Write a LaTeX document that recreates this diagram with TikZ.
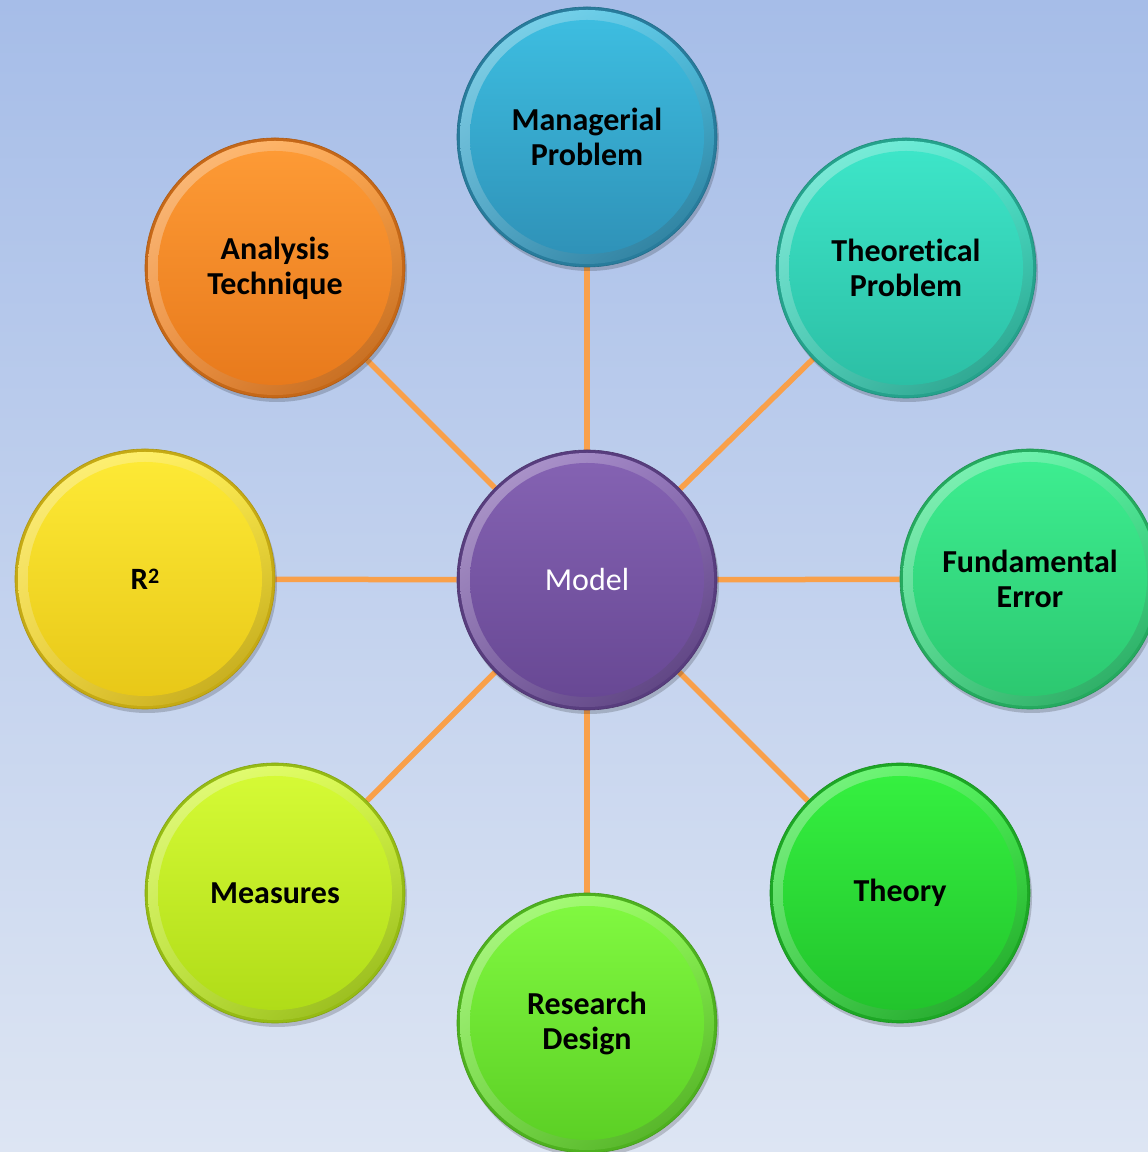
\documentclass[tikz,border=0pt]{standalone}
\usepackage{fontspec}
\setmainfont[Ligatures=NoCommon]{Carlito}
\usetikzlibrary{shadows,shadings}
\definecolor{bgtop}{HTML}{A6BDE8}
\definecolor{bgbot}{HTML}{DDE5F3}
\definecolor{link}{HTML}{F9A04A}
\definecolor{mgT}{HTML}{3DBDE0}\definecolor{mgB}{HTML}{2F92B8}
\definecolor{thT}{HTML}{3DE5C8}\definecolor{thB}{HTML}{2CBFA5}
\definecolor{fuT}{HTML}{3DED90}\definecolor{fuB}{HTML}{2CC870}
\definecolor{tyT}{HTML}{35F040}\definecolor{tyB}{HTML}{22C42C}
\definecolor{rdT}{HTML}{80F840}\definecolor{rdB}{HTML}{5CD025}
\definecolor{meT}{HTML}{D5FA35}\definecolor{meB}{HTML}{B0DC18}
\definecolor{r2T}{HTML}{FDE935}\definecolor{r2B}{HTML}{E8C818}
\definecolor{anT}{HTML}{FD9A35}\definecolor{anB}{HTML}{E87A1C}
\definecolor{moT}{HTML}{8462B2}\definecolor{moB}{HTML}{684894}
\pgfdeclarelayer{bg}
\pgfdeclarelayer{edges}
\pgfsetlayers{bg,edges,main}
\tikzset{
  bubble/.style 2 args={
    circle, minimum size=260pt, inner sep=0pt, align=center,
    font=\fontsize{32}{35}\selectfont\bfseries,
    fill=#2!85!black, draw=#2!75!black, line width=0.6pt,
    drop shadow={shadow xshift=2pt, shadow yshift=-4pt, opacity=0.18, fill=black},
    path picture={
      \coordinate (pc) at (path picture bounding box.center);
      \shade[upper left=#1!60!white, upper right=#1!90!white,
             lower left=#2!85!white, lower right=#2!80!black] (pc) circle (127pt);
      \shade[top color=#1, bottom color=#2] (pc) circle (117pt);
    }
  },
  linkline/.style={draw=link, line width=5.5pt}
}
\begin{document}
\begin{tikzpicture}[x=1pt,y=1pt]
\useasboundingbox (0,0) rectangle (1148,1152);
\begin{pgfonlayer}{bg}
\shade[top color=bgtop, bottom color=bgbot] (0,0) rectangle (1148,1152);
\end{pgfonlayer}
\node[bubble={moT}{moB}, font=\fontsize{32}{35}\selectfont, text=white] (model) at (587,572) {Model};
\node[bubble={mgT}{mgB}] (mgr) at (587,1015) {Managerial\\Problem};
\node[bubble={thT}{thB}] (thp) at (906,884) {Theoretical\\Problem};
\node[bubble={fuT}{fuB}] (fun) at (1030,573) {Fundamental\\Error};
\node[bubble={tyT}{tyB}] (thy) at (900,259) {Theory};
\node[bubble={rdT}{rdB}] (res) at (587,129) {Research\\Design};
\node[bubble={meT}{meB}] (mea) at (275,259) {Measures};
\node[bubble={r2T}{r2B}, font=\fontsize{31}{35}\selectfont\bfseries] (rsq) at (145,573) {R\raisebox{0.42ex}{\fontsize{22}{22}\selectfont\bfseries 2}};
\node[bubble={anT}{anB}] (ana) at (275,884) {Analysis\\Technique};
\begin{pgfonlayer}{edges}
\foreach \t in {mgr,thp,fun,thy,res,mea,rsq,ana}
  \draw[linkline] (model) -- (\t);
\end{pgfonlayer}
\end{tikzpicture}
\end{document}
